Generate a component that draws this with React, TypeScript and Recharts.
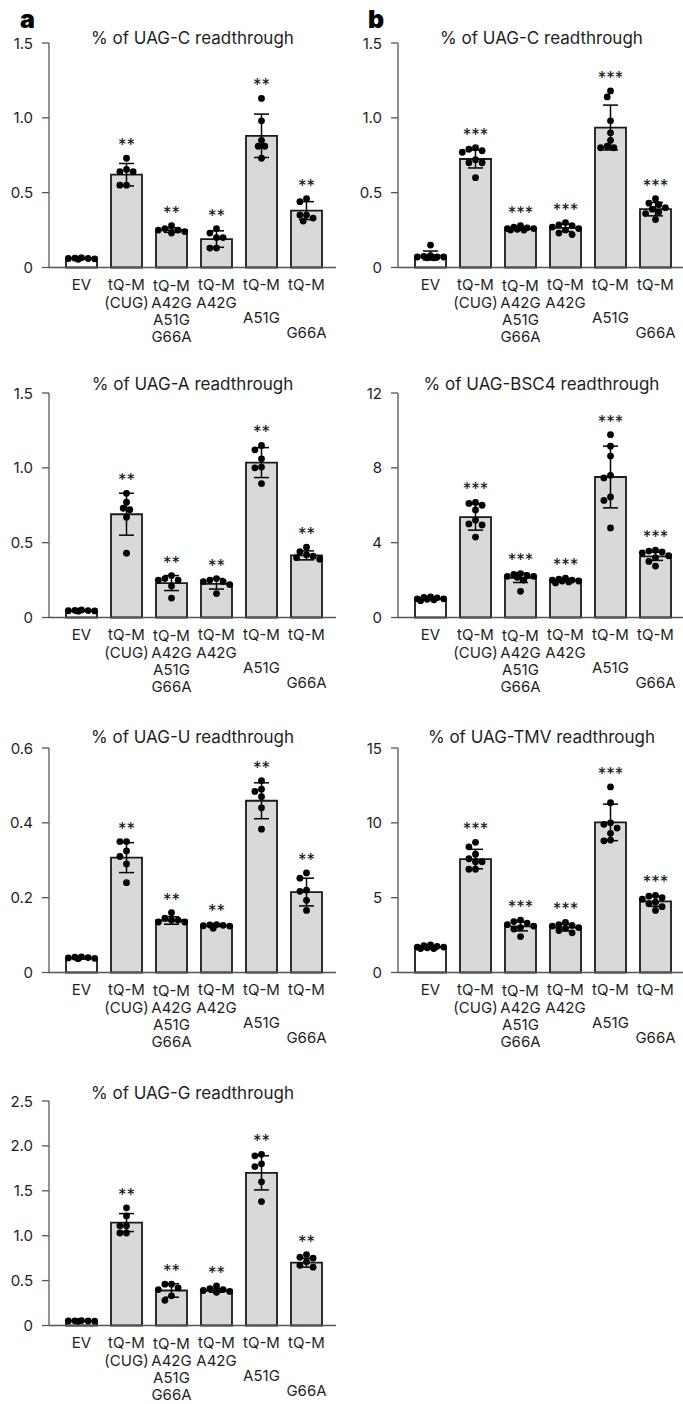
import React from "react";
import { ComposedChart, Bar, Cell, ErrorBar, Scatter, XAxis, YAxis } from "recharts";

const CATEGORIES = ["EV", "tQ-M (CUG)", "tQ-M A42G A51G G66A", "tQ-M A42G", "tQ-M A51G", "tQ-M G66A"];
const TICK_LINES = [
  ["EV"],
  ["tQ-M", "(CUG)"],
  ["tQ-M", "A42G", "A51G", "G66A"],
  ["tQ-M", "A42G"],
  ["tQ-M", "A51G"],
  ["tQ-M", "G66A"],
];
// vertical offset of every label line below the first one (px)
const TICK_LINE_DY = [[0], [0, 18], [1.5, 18, 35.5, 52.5], [0, 18], [0, 33], [0, 48]];

// a: % of UAG-C readthrough
const uagCMeanA = [0.06, 0.62, 0.25, 0.19, 0.88, 0.38];
const uagCSdA = [0.004, 0.075, 0.015, 0.055, 0.145, 0.06];
const uagCDotsA = [
  [0.065, 0.062, 0.06, 0.06, 0.058, 0.055],
  [0.73, 0.655, 0.64, 0.64, 0.55, 0.55],
  [0.28, 0.26, 0.25, 0.25, 0.24, 0.23],
  [0.26, 0.23, 0.2, 0.2, 0.13, 0.13],
  [1.13, 0.98, 0.85, 0.81, 0.81, 0.73],
  [0.46, 0.44, 0.35, 0.35, 0.33, 0.31],
];

// a: % of UAG-A readthrough
const uagAMean = [0.045, 0.69, 0.23, 0.225, 1.035, 0.415];
const uagASd = [0.004, 0.14, 0.05, 0.035, 0.1, 0.03];
const uagADots = [
  [0.05, 0.048, 0.046, 0.045, 0.044, 0.042],
  [0.83, 0.77, 0.73, 0.72, 0.67, 0.43],
  [0.28, 0.26, 0.25, 0.25, 0.21, 0.13],
  [0.26, 0.25, 0.24, 0.24, 0.22, 0.16],
  [1.15, 1.12, 1.06, 1.005, 1.0, 0.895],
  [0.47, 0.44, 0.42, 0.41, 0.4, 0.39],
];

// a: % of UAG-U readthrough
const uagUMean = [0.038, 0.307, 0.139, 0.126, 0.459, 0.215];
const uagUSd = [0.002, 0.04, 0.01, 0.003, 0.048, 0.037];
const uagUDots = [
  [0.042, 0.041, 0.04, 0.039, 0.038, 0.037],
  [0.35, 0.35, 0.325, 0.31, 0.29, 0.24],
  [0.16, 0.145, 0.14, 0.14, 0.135, 0.135],
  [0.128, 0.127, 0.126, 0.125, 0.124, 0.118],
  [0.513, 0.49, 0.484, 0.47, 0.44, 0.383],
  [0.266, 0.252, 0.22, 0.217, 0.193, 0.166],
];

// a: % of UAG-G readthrough
const uagGMean = [0.05, 1.146, 0.39, 0.39, 1.7, 0.7];
const uagGSd = [0.003, 0.1, 0.075, 0.02, 0.19, 0.05];
const uagGDots = [
  [0.055, 0.052, 0.05, 0.05, 0.048, 0.046],
  [1.31, 1.22, 1.11, 1.11, 1.03, 1.03],
  [0.46, 0.46, 0.42, 0.4, 0.33, 0.28],
  [0.44, 0.41, 0.4, 0.39, 0.38, 0.37],
  [1.906, 1.89, 1.8, 1.77, 1.6, 1.38],
  [0.79, 0.76, 0.75, 0.71, 0.67, 0.65],
];

// b: % of UAG-C readthrough
const uagCMeanB = [0.08, 0.725, 0.26, 0.265, 0.935, 0.39];
const uagCSdB = [0.03, 0.06, 0.01, 0.025, 0.15, 0.045];
const uagCDotsB = [
  [0.15, 0.08, 0.075, 0.07, 0.07, 0.07, 0.065, 0.065],
  [0.8, 0.79, 0.78, 0.77, 0.72, 0.7, 0.7, 0.6],
  [0.28, 0.27, 0.265, 0.26, 0.26, 0.255, 0.25, 0.25],
  [0.3, 0.285, 0.28, 0.27, 0.26, 0.25, 0.23, 0.22],
  [1.18, 1.14, 0.98, 0.9, 0.85, 0.81, 0.8, 0.8],
  [0.46, 0.43, 0.42, 0.4, 0.39, 0.37, 0.36, 0.32],
];

// b: % of UAG-BSC4 readthrough
const bsc4Mean = [1.0, 5.37, 2.12, 2.0, 7.51, 3.27];
const bsc4Sd = [0.07, 0.7, 0.25, 0.08, 1.65, 0.22];
const bsc4Dots = [
  [1.1, 1.07, 1.05, 1.0, 1.0, 0.97, 0.95, 0.9],
  [6.15, 6.1, 6.0, 5.75, 5.2, 5.0, 4.95, 4.3],
  [2.35, 2.3, 2.25, 2.2, 2.2, 2.15, 2.0, 1.4],
  [2.1, 2.05, 2.0, 2.0, 1.95, 1.95, 1.9, 1.85],
  [9.77, 9.16, 8.63, 7.6, 7.46, 6.44, 6.26, 4.79],
  [3.6, 3.55, 3.5, 3.45, 3.3, 3.2, 3.0, 2.75],
];

// b: % of UAG-TMV readthrough
const tmvMean = [1.69, 7.58, 3.08, 3.0, 10.03, 4.75];
const tmvSd = [0.1, 0.65, 0.3, 0.22, 1.22, 0.33];
const tmvDots = [
  [1.85, 1.8, 1.75, 1.7, 1.7, 1.65, 1.6, 1.6],
  [8.7, 8.4, 7.9, 7.6, 7.4, 7.4, 6.9, 6.9],
  [3.5, 3.4, 3.3, 3.2, 3.1, 3.0, 2.9, 2.4],
  [3.35, 3.2, 3.15, 3.1, 3.0, 2.95, 2.8, 2.65],
  [12.4, 11.35, 10.0, 9.9, 9.65, 9.3, 8.85, 8.8],
  [5.15, 5.1, 5.0, 4.9, 4.7, 4.6, 4.4, 4.15],
];

const TICKS_1_5 = [0, 0.5, 1.0, 1.5];
const TICKS_0_6 = [0, 0.2, 0.4, 0.6];
const TICKS_2_5 = [0, 0.5, 1.0, 1.5, 2.0, 2.5];
const TICKS_12 = [0, 4, 8, 12];
const TICKS_15 = [0, 5, 10, 15];

const FONT = "Inter, 'Liberation Sans', sans-serif";
const CHART_W = 340;
const Y_AXIS_W = 49;
const PLOT_H = 224.5;
const TOP_PAD = 12;
const X_AXIS_H = 92;
const BAND = 45;
const DOT_R = 3.4;
const BAR_FILL = "#d8d9db";
const INK = "#1a1a1a";
const AXIS = "#555";
const TEXT = "#1e1e1e";

type Panel = {
  title: string;
  left: number;
  plotTop: number;
  titleY: number;
  ticks: number[];
  decimals: number;
  stars: string;
  mean: number[];
  sd: number[];
  dots: number[][];
};

const COL_A = 0;
const COL_B = 349;

const panels: Panel[] = [
  { title: "% of UAG-C readthrough", left: COL_A, plotTop: 43.3, titleY: 38, ticks: TICKS_1_5, decimals: 1, stars: "**", mean: uagCMeanA, sd: uagCSdA, dots: uagCDotsA },
  { title: "% of UAG-A readthrough", left: COL_A, plotTop: 392.7, titleY: 384, ticks: TICKS_1_5, decimals: 1, stars: "**", mean: uagAMean, sd: uagASd, dots: uagADots },
  { title: "% of UAG-U readthrough", left: COL_A, plotTop: 748.3, titleY: 737, ticks: TICKS_0_6, decimals: 1, stars: "**", mean: uagUMean, sd: uagUSd, dots: uagUDots },
  { title: "% of UAG-G readthrough", left: COL_A, plotTop: 1101, titleY: 1093, ticks: TICKS_2_5, decimals: 1, stars: "**", mean: uagGMean, sd: uagGSd, dots: uagGDots },
  { title: "% of UAG-C readthrough", left: COL_B, plotTop: 43.3, titleY: 38, ticks: TICKS_1_5, decimals: 1, stars: "***", mean: uagCMeanB, sd: uagCSdB, dots: uagCDotsB },
  { title: "% of UAG-BSC4 readthrough", left: COL_B, plotTop: 392.7, titleY: 384, ticks: TICKS_12, decimals: 0, stars: "***", mean: bsc4Mean, sd: bsc4Sd, dots: bsc4Dots },
  { title: "% of UAG-TMV readthrough", left: COL_B, plotTop: 748.3, titleY: 737, ticks: TICKS_15, decimals: 0, stars: "***", mean: tmvMean, sd: tmvSd, dots: tmvDots },
];

// simple beeswarm: spread dots sideways when they would overlap
function swarm(values: number[], yMax: number): number[] {
  const ppu = PLOT_H / yMax;
  const slots = [0, -3.3, 3.3, -6.6, 6.6, -9.9, 9.9, -13.2, 13.2];
  const placed: { dx: number; py: number }[] = [];
  const out = new Array(values.length).fill(0);
  const order = values.map((_, i) => i).sort((a, b) => values[b] - values[a]);
  for (const i of order) {
    const py = values[i] * ppu;
    let best = 0;
    let bestD = -1;
    for (const s of slots) {
      const d = placed.reduce((m, p) => Math.min(m, Math.hypot(p.dx - s, p.py - py)), Infinity);
      if (d >= 2 * DOT_R - 0.2) {
        best = s;
        break;
      }
      if (d > bestD) {
        bestD = d;
        best = s;
      }
    }
    placed.push({ dx: best, py });
    out[i] = best / BAND;
  }
  return out;
}

const XTick = (props: any) => {
  const { x, y, index } = props;
  const lines = TICK_LINES[index] || [];
  const dys = TICK_LINE_DY[index] || [];
  return (
    <g>
      {lines.map((t, k) => (
        <text key={k} x={x} y={y + 16.5 + dys[k]} textAnchor="middle" dominantBaseline="central" fontSize={15} fontFamily={FONT} fill={TEXT}>
          {t}
        </text>
      ))}
    </g>
  );
};

const makeYTick = (fmt: (v: number) => string) => (props: any) => (
  <text x={Y_AXIS_W - 16} y={props.y} textAnchor="end" dominantBaseline="central" fontSize={15} fontFamily={FONT} fill={TEXT}>
    {fmt(props.payload.value)}
  </text>
);

const Dot = (props: any) => <circle cx={props.cx} cy={props.cy} r={DOT_R} fill="#000" />;

const Stars = (props: any) => (
  <text x={props.cx} y={props.cy - 7} textAnchor="middle" fontSize={17} fontFamily={FONT} fill="#111">
    {props.payload.label}
  </text>
);

function PanelChart({ p }: { p: Panel }) {
  const yMax = p.ticks[p.ticks.length - 1];
  const rows = CATEGORIES.map((name, i) => ({ name, mean: p.mean[i], sd: p.sd[i] }));
  const dotData = p.dots.flatMap((vals, i) => {
    const offs = swarm(vals, yMax);
    return vals.map((v, k) => ({ x: i + offs[k], y: v }));
  });
  const starData = p.dots
    .map((vals, i) => ({ x: i, y: Math.max(...vals, p.mean[i] + p.sd[i]), label: p.stars }))
    .filter((d) => d.x > 0);
  const fmt = (v: number) => (v === 0 ? "0" : v.toFixed(p.decimals));
  const YTick = makeYTick(fmt);
  return (
    <div style={{ position: "absolute", left: p.left, top: p.plotTop - TOP_PAD }}>
      <ComposedChart width={CHART_W} height={TOP_PAD + PLOT_H + X_AXIS_H} data={rows} margin={{ top: TOP_PAD, right: 4, bottom: 0, left: 0 }}>
        <XAxis
          xAxisId="cat"
          dataKey="name"
          interval={0}
          tick={<XTick />}
          tickLine={false}
          tickSize={0}
          tickMargin={0}
          axisLine={{ stroke: AXIS, strokeWidth: 1.3 }}
          padding={{ left: 10, right: 7 }}
          height={X_AXIS_H}
        />
        <XAxis xAxisId="num" type="number" dataKey="x" domain={[-0.5, 5.5]} hide padding={{ left: 10, right: 7 }} />
        <YAxis
          domain={[0, yMax]}
          ticks={p.ticks}
          interval={0}
          width={Y_AXIS_W}
          tickSize={7}
          axisLine={{ stroke: AXIS, strokeWidth: 1.3 }}
          tickLine={{ stroke: AXIS, strokeWidth: 1.3 }}
          tick={<YTick />}
        />
        <Bar xAxisId="cat" dataKey="mean" barSize={31} stroke={INK} strokeWidth={1.8} isAnimationActive={false}>
          {rows.map((_, i) => (
            <Cell key={i} fill={i === 0 ? "#ffffff" : BAR_FILL} />
          ))}
          <ErrorBar dataKey="sd" width={7.5} stroke="#000" strokeWidth={1.5} direction="y" />
        </Bar>
        <Scatter xAxisId="num" data={dotData} dataKey="y" shape={<Dot />} isAnimationActive={false} />
        <Scatter xAxisId="num" data={starData} dataKey="y" shape={<Stars />} isAnimationActive={false} />
      </ComposedChart>
      <div
        style={{
          position: "absolute",
          left: Y_AXIS_W,
          width: 287,
          top: p.titleY - (p.plotTop - TOP_PAD) - 10,
          lineHeight: "20px",
          textAlign: "center",
          fontSize: 17,
          fontFamily: FONT,
          color: TEXT,
          whiteSpace: "nowrap",
        }}
      >
        {p.title}
      </div>
    </div>
  );
}

export default function App() {
  return (
    <div style={{ position: "absolute", left: 0, top: 0, width: 683, height: 1404, overflow: "hidden", background: "#fff", fontFamily: FONT }}>
      <div style={{ position: "absolute", left: 20, top: 8, fontSize: 25, fontWeight: 900, fontFamily: FONT, lineHeight: "22px" }}>a</div>
      <div style={{ position: "absolute", left: 368, top: 8, fontSize: 25, fontWeight: 900, fontFamily: FONT, lineHeight: "22px" }}>b</div>
      {panels.map((p, i) => (
        <PanelChart key={i} p={p} />
      ))}
    </div>
  );
}
